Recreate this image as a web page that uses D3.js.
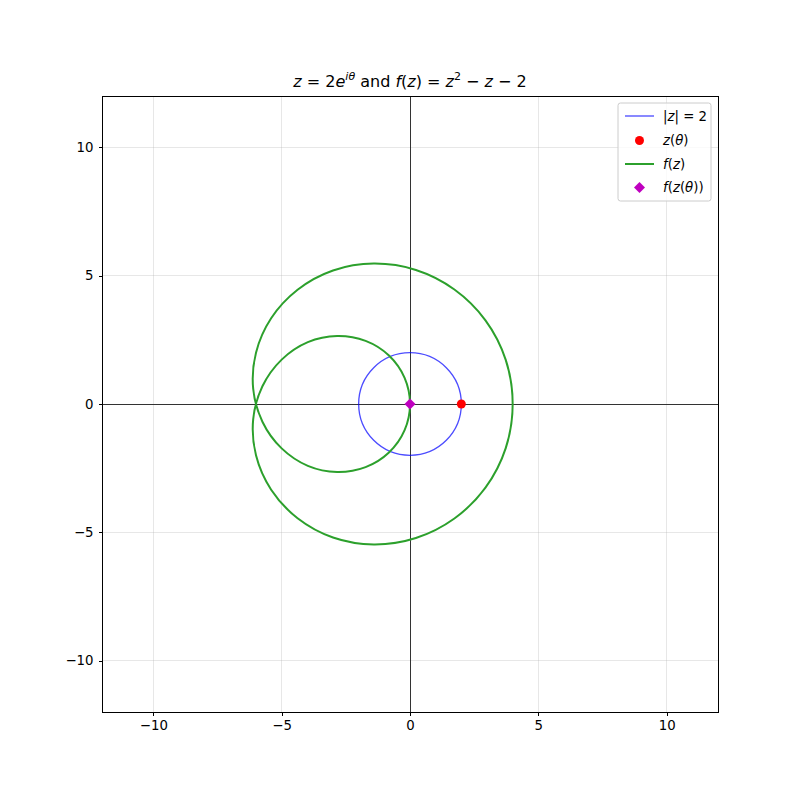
<!DOCTYPE html>
<html>
<head>
<meta charset="utf-8">
<script src="https://cdn.jsdelivr.net/npm/d3@7"></script>
<style>
	body { margin: 0; background: #fff; }
	svg text { font-family: "DejaVu Sans", sans-serif; }
</style>
</head>
<body>
<svg id="chart" width="800" height="800"></svg>
<script>
(function(){
	'use strict';

	// axis ticks
	var ticks = [-10, -5, 0, 5, 10];
	var domain = [-12, 12];

	// circle |z| = 2
	var circleCenter = [0, 0];
	var circleRadius = 2;

	// f(z) traced every 10 degrees of theta (re, im)
	var fRe = [0, -0.21, -0.82, -1.73, -2.84, -3.98, -5.00, -5.75, -6.11, -6.00,
		-5.41, -4.38, -3.00, -1.41, 0.23, 1.73, 2.94, 3.73, 4.00,
		3.73, 2.94, 1.73, 0.23, -1.41, -3.00, -4.38, -5.41, -6.00,
		-6.11, -5.75, -5.00, -3.98, -2.84, -1.73, -0.82, -0.21];
	var fIm = [0, 1.02, 1.89, 2.46, 2.65, 2.41, 1.73, 0.69, -0.60, -2.00,
		-3.34, -4.45, -5.20, -5.47, -5.22, -4.46, -3.26, -1.72, 0,
		1.72, 3.26, 4.46, 5.22, 5.47, 5.20, 4.45, 3.34, 2.00,
		0.60, -0.69, -1.73, -2.41, -2.65, -2.46, -1.89, -1.02];

	// current points
	var zPoint = [2, 0];
	var fPoint = [0, 0];

	var svg = d3.select('#chart');
	var m = { left: 102, top: 96, size: 616 };

	var x = d3.scaleLinear().domain(domain).range([m.left, m.left + m.size]);
	var y = d3.scaleLinear().domain(domain).range([m.top + m.size, m.top]);

	var g = svg.append('g');

	// grid
	g.selectAll('.gx').data(ticks).enter().append('line')
		.attr('x1', (d) => x(d)).attr('x2', (d) => x(d))
		.attr('y1', m.top).attr('y2', m.top + m.size)
		.attr('stroke', '#b0b0b0').attr('stroke-opacity', 0.3).attr('stroke-width', 1)
		.attr('shape-rendering', 'crispEdges');
	g.selectAll('.gy').data(ticks).enter().append('line')
		.attr('y1', (d) => y(d)).attr('y2', (d) => y(d))
		.attr('x1', m.left).attr('x2', m.left + m.size)
		.attr('stroke', '#b0b0b0').attr('stroke-opacity', 0.3).attr('stroke-width', 1)
		.attr('shape-rendering', 'crispEdges');

	// zero lines
	g.append('line').attr('x1', x(0)).attr('x2', x(0)).attr('y1', m.top).attr('y2', m.top + m.size)
		.attr('stroke', '#333').attr('stroke-width', 1).attr('shape-rendering', 'crispEdges');
	g.append('line').attr('y1', y(0)).attr('y2', y(0)).attr('x1', m.left).attr('x2', m.left + m.size)
		.attr('stroke', '#333').attr('stroke-width', 1).attr('shape-rendering', 'crispEdges');

	// |z| = 2
	g.append('circle')
		.attr('cx', x(circleCenter[0])).attr('cy', y(circleCenter[1]))
		.attr('r', x(circleRadius) - x(0))
		.attr('fill', 'none').attr('stroke', '#0000ff').attr('stroke-opacity', 0.7).attr('stroke-width', 1.33);

	// f(z)
	var pts = fRe.map((d, i) => [d, fIm[i]]);
	var line = d3.line().x((d) => x(d[0])).y((d) => y(d[1])).curve(d3.curveCatmullRomClosed.alpha(0.5));
	g.append('path').attr('d', line(pts))
		.attr('fill', 'none').attr('stroke', '#2ca02c').attr('stroke-width', 2);

	// markers
	g.append('circle').attr('cx', x(zPoint[0])).attr('cy', y(zPoint[1])).attr('r', 4.5).attr('fill', '#ff0000');
	g.append('path').attr('d', d3.symbol().type(d3.symbolSquare).size(60)())
		.attr('transform', 'translate(' + x(fPoint[0]) + ',' + y(fPoint[1]) + ') rotate(45)')
		.attr('fill', '#bf00bf');

	// axes
	var xAxis = d3.axisBottom(x).tickValues(ticks).tickSize(3.5).tickPadding(5)
		.tickFormat((d) => d < 0 ? '\u2212' + Math.abs(d) : d);
	var yAxis = d3.axisLeft(y).tickValues(ticks).tickSize(3.5).tickPadding(5)
		.tickFormat((d) => d < 0 ? '\u2212' + Math.abs(d) : d);
	var gx = svg.append('g').attr('transform', 'translate(0,' + (m.top + m.size) + ')').call(xAxis);
	var gy = svg.append('g').attr('transform', 'translate(' + m.left + ',0)').call(yAxis);
	[gx, gy].forEach(function(a){
		a.select('.domain').remove();
		a.selectAll('text').attr('font-size', '13.3px').attr('fill', '#000').attr('font-family', 'DejaVu Sans');
		a.selectAll('line').attr('stroke', '#000').attr('stroke-width', 1).attr('shape-rendering', 'crispEdges');
	});

	// frame
	svg.append('rect').attr('x', m.left).attr('y', m.top).attr('width', m.size).attr('height', m.size)
		.attr('fill', 'none').attr('stroke', '#000').attr('stroke-width', 1).attr('shape-rendering', 'crispEdges');

	// title
	var t = svg.append('text').attr('x', x(0)).attr('y', 87).attr('text-anchor', 'middle').attr('font-size', '16px');
	t.append('tspan').attr('font-style', 'italic').text('z');
	t.append('tspan').text(' = 2');
	t.append('tspan').attr('font-style', 'italic').text('e');
	t.append('tspan').attr('font-style', 'italic').attr('font-size', '11px').attr('dy', -7).text('i\u03b8');
	t.append('tspan').attr('dy', 7).text(' and ');
	t.append('tspan').attr('font-style', 'italic').text('f');
	t.append('tspan').text('(');
	t.append('tspan').attr('font-style', 'italic').text('z');
	t.append('tspan').text(') = ');
	t.append('tspan').attr('font-style', 'italic').text('z');
	t.append('tspan').attr('font-size', '11px').attr('dy', -7).text('2');
	t.append('tspan').attr('dy', 7).text(' \u2212 ');
	t.append('tspan').attr('font-style', 'italic').text('z');
	t.append('tspan').text(' \u2212 2');

	// legend
	var lg = svg.append('g').attr('transform', 'translate(618,103)');
	lg.append('rect').attr('width', 93).attr('height', 98).attr('rx', 2.5)
		.attr('fill', '#fff').attr('fill-opacity', 0.8).attr('stroke', '#cccccc').attr('stroke-width', 1);
	var rows = [13, 37.5, 61, 84.5];
	lg.append('line').attr('x1', 7).attr('x2', 36).attr('y1', rows[0]).attr('y2', rows[0])
		.attr('stroke', '#0000ff').attr('stroke-opacity', 0.7).attr('stroke-width', 1.33);
	lg.append('circle').attr('cx', 21.5).attr('cy', rows[1]).attr('r', 4.5).attr('fill', '#ff0000');
	lg.append('line').attr('x1', 7).attr('x2', 36).attr('y1', rows[2]).attr('y2', rows[2])
		.attr('stroke', '#2ca02c').attr('stroke-width', 2);
	lg.append('path').attr('d', d3.symbol().type(d3.symbolSquare).size(60)())
		.attr('transform', 'translate(21.5,' + rows[3] + ') rotate(45)').attr('fill', '#bf00bf');

	function lt(i){
		return lg.append('text').attr('x', 45).attr('y', rows[i] + 4.6).attr('font-size', '13.3px');
	}
	var l0 = lt(0);
	l0.append('tspan').text('|');
	l0.append('tspan').attr('font-style', 'italic').text('z');
	l0.append('tspan').text('| = 2');
	var l1 = lt(1);
	l1.append('tspan').attr('font-style', 'italic').text('z');
	l1.append('tspan').text('(');
	l1.append('tspan').attr('font-style', 'italic').text('\u03b8');
	l1.append('tspan').text(')');
	var l2 = lt(2);
	l2.append('tspan').attr('font-style', 'italic').text('f');
	l2.append('tspan').text('(');
	l2.append('tspan').attr('font-style', 'italic').text('z');
	l2.append('tspan').text(')');
	var l3 = lt(3);
	l3.append('tspan').attr('font-style', 'italic').text('f');
	l3.append('tspan').text('(');
	l3.append('tspan').attr('font-style', 'italic').text('z');
	l3.append('tspan').text('(');
	l3.append('tspan').attr('font-style', 'italic').text('\u03b8');
	l3.append('tspan').text('))');
})();
</script>
</body>
</html>
